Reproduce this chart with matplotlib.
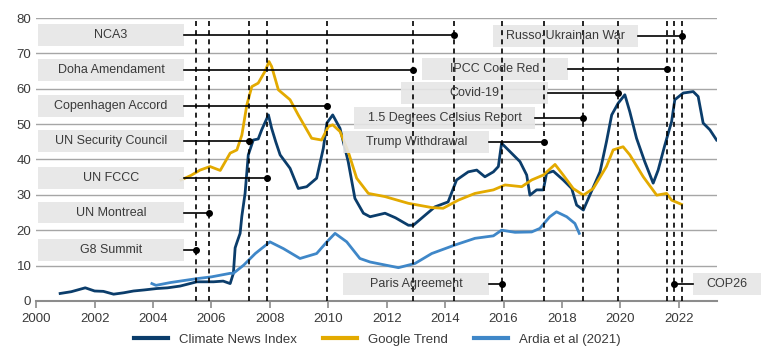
import matplotlib.pyplot as plt
from matplotlib.patches import Rectangle

plt.rcParams['font.family'] = ['Liberation Sans', 'DejaVu Sans']

# series (year, value)
news_x = [2000.82, 2001.2, 2001.68, 2002.0, 2002.3, 2002.65, 2003.0, 2003.33, 2003.7, 2004.13, 2004.5,
          2004.93, 2005.5, 2006.07, 2006.4, 2006.64, 2006.75, 2006.81, 2006.87, 2006.98, 2007.04, 2007.15,
          2007.26, 2007.43, 2007.6, 2007.72, 2007.95, 2008.06, 2008.2, 2008.35, 2008.69, 2008.97, 2009.26,
          2009.6, 2009.83, 2009.95, 2010.15, 2010.4, 2010.68, 2010.91, 2011.2, 2011.43, 2011.94, 2012.3,
          2012.74, 2012.91, 2013.25, 2013.65, 2014.1, 2014.39, 2014.79, 2015.08, 2015.36, 2015.65, 2015.82,
          2015.93, 2016.16, 2016.56, 2016.79, 2016.9, 2017.13, 2017.36, 2017.47, 2017.7, 2018.04, 2018.33,
          2018.5, 2018.73, 2018.95, 2019.3, 2019.52, 2019.7, 2019.92, 2020.15, 2020.32, 2020.55, 2020.83,
          2021.12, 2021.29, 2021.52, 2021.75, 2021.86, 2022.15, 2022.49, 2022.66, 2022.83, 2023.06, 2023.29]
news_y = [2.1, 2.6, 3.7, 2.8, 2.7, 1.9, 2.3, 2.8, 3.1, 3.5, 3.7,
          4.2, 5.4, 5.4, 5.6, 4.9, 7.8, 15.0, 16.5, 19.1, 24.0, 30.4,
          41.3, 45.5, 45.8, 48.4, 52.6, 48.8, 45.0, 41.3, 37.5, 31.8, 32.3,
          34.7, 43.2, 50.3, 52.6, 48.8, 39.4, 29.0, 24.8, 23.8, 24.8, 23.5,
          21.4, 21.4, 23.8, 26.6, 28.0, 34.2, 36.5, 37.0, 35.1, 36.5, 38.0,
          44.6, 42.7, 39.4, 35.6, 29.9, 31.4, 31.4, 36.1, 36.7, 34.2, 31.8,
          27.1, 25.7, 29.9, 36.5, 45.0, 52.6, 55.9, 58.3, 53.5, 46.0, 39.4,
          33.3, 37.0, 44.1, 50.7, 56.9, 58.8, 59.2, 57.8, 50.3, 48.4, 45.5]

google_x = [2004.96, 2005.3, 2005.61, 2005.95, 2006.3, 2006.64, 2006.87, 2007.04, 2007.21, 2007.38, 2007.6,
            2007.83, 2007.97, 2008.06, 2008.29, 2008.69, 2008.97, 2009.43, 2009.77, 2010.0, 2010.15, 2010.4,
            2010.68, 2010.97, 2011.37, 2011.94, 2012.74, 2013.54, 2013.93, 2014.45, 2015.02, 2015.65, 2016.05,
            2016.62, 2016.96, 2017.36, 2017.76, 2018.04, 2018.38, 2018.73, 2019.07, 2019.52, 2019.75, 2020.09,
            2020.32, 2020.78, 2021.24, 2021.58, 2021.75, 2022.09]
google_y = [34.2, 35.5, 37.0, 38.0, 36.9, 41.8, 42.7, 46.9, 55.4, 60.6, 61.6,
            64.9, 67.7, 66.3, 59.7, 56.9, 52.6, 46.0, 45.5, 49.3, 49.8, 47.9,
            42.2, 34.7, 30.4, 29.5, 27.6, 26.4, 26.2, 28.5, 30.4, 31.4, 32.8,
            32.3, 34.2, 35.6, 38.6, 35.6, 31.8, 29.9, 31.8, 38.0, 42.7, 43.6,
            41.3, 35.1, 29.9, 30.4, 28.5, 27.3]

ardia_x = [2003.96, 2004.1, 2004.6, 2005.5, 2006.0, 2006.64, 2006.75, 2007.1, 2007.5, 2008.0, 2008.46,
           2009.03, 2009.6, 2009.95, 2010.23, 2010.63, 2011.08, 2011.43, 2012.4, 2012.97, 2013.54, 2014.33,
           2015.02, 2015.65, 2015.93, 2016.39, 2016.96, 2017.24, 2017.58, 2017.81, 2018.16, 2018.44, 2018.59]
ardia_y = [4.9, 4.4, 5.2, 6.3, 6.8, 7.8, 7.8, 10.1, 13.4, 16.7, 14.8,
           12.0, 13.4, 16.7, 19.1, 16.7, 12.0, 11.0, 9.4, 10.6, 13.4, 15.8,
           17.7, 18.4, 20.0, 19.4, 19.5, 20.5, 23.8, 25.2, 23.8, 21.9, 19.1]

# events: label, date, level, box start, box end
ev_label = ['G8 Summit', 'UN Montreal', 'UN Security Council', 'UN FCCC', 'Copenhagen Accord',
            'Doha Amendament', 'NCA3', 'Paris Agreement', 'Trump Withdrawal', '1.5 Degrees Celsius Report',
            'Covid-19', 'IPCC Code Red', 'COP26', 'Russo-Ukrainian War']
ev_date = [2005.47, 2005.92, 2007.3, 2007.91, 2009.96, 2012.91, 2014.3, 2015.93, 2017.39, 2018.72,
           2019.92, 2021.58, 2021.83, 2022.12]
ev_level = [14.4, 25.0, 45.3, 34.7, 55.0, 65.2, 75.3, 4.7, 44.9, 51.8, 58.7, 65.5, 4.7, 75.0]
box_x0 = [2000.07] * 7 + [2010.51, 2010.51, 2010.88, 2012.49, 2013.2, 2022.47, 2015.62]
box_x1 = [2005.06] * 7 + [2015.51, 2015.51, 2017.07, 2017.51, 2018.19, 2024.8, 2020.61]

fig, ax = plt.subplots(figsize=(7.7, 3.54), dpi=100)
fig.subplots_adjust(left=0.047, right=0.931, bottom=0.150, top=0.949)

l1, = ax.plot(news_x, news_y, color='#0b3d6b', lw=2.0, zorder=2, label='Climate News Index')
l2, = ax.plot(google_x, google_y, color='#e3aa00', lw=2.0, zorder=2, label='Google Trend')
l3, = ax.plot(ardia_x, ardia_y, color='#3f87c8', lw=2.0, zorder=2, label='Ardia et al (2021)')

for lab, d, lv, b0, b1 in zip(ev_label, ev_date, ev_level, box_x0, box_x1):
    ax.axvline(d, color='black', lw=1.2, ls=(0, (3, 2.5)), zorder=4)
    ax.add_patch(Rectangle((b0, lv - 3.1), b1 - b0, 6.2, facecolor='#e6e6e6', edgecolor='none',
                           alpha=0.9, zorder=3, clip_on=False))
    ax.text((b0 + b1) / 2, lv, lab, ha='center', va='center', fontsize=9, color='#3a3a3a', zorder=6,
            clip_on=False)
    if b1 < d:
        ax.plot([b1, d], [lv, lv], color='black', lw=1.2, zorder=5)
    else:
        ax.plot([d, b0], [lv, lv], color='black', lw=1.2, zorder=5)
    ax.plot(d, lv, 'o', color='black', ms=4, zorder=5)

ax.set_xlim(2000, 2023.3)
ax.set_ylim(0, 80)
ax.set_xticks(range(2000, 2023, 2))
ax.set_yticks(range(0, 81, 10))
ax.grid(axis='y', color='#a6a6a6', lw=1)
ax.set_axisbelow(True)
for s in ['top', 'right', 'left']:
    ax.spines[s].set_visible(False)
ax.spines['bottom'].set_color('#8c8c8c')
ax.spines['bottom'].set_linewidth(1.5)
ax.tick_params(axis='x', colors='#8c8c8c', length=5, width=1.2, labelcolor='#3a3a3a', labelsize=9.5)
ax.tick_params(axis='y', length=0, labelcolor='#3a3a3a', labelsize=9.5)

leg = fig.legend(handles=[l1, l2, l3], loc='lower center', bbox_to_anchor=(0.49, -0.01), ncol=3,
                 frameon=False, fontsize=9.5, handlelength=2.6, columnspacing=2.0, labelcolor='#3a3a3a')
for h in leg.get_lines():
    h.set_linewidth(3)

plt.savefig('out.png', dpi=100)
